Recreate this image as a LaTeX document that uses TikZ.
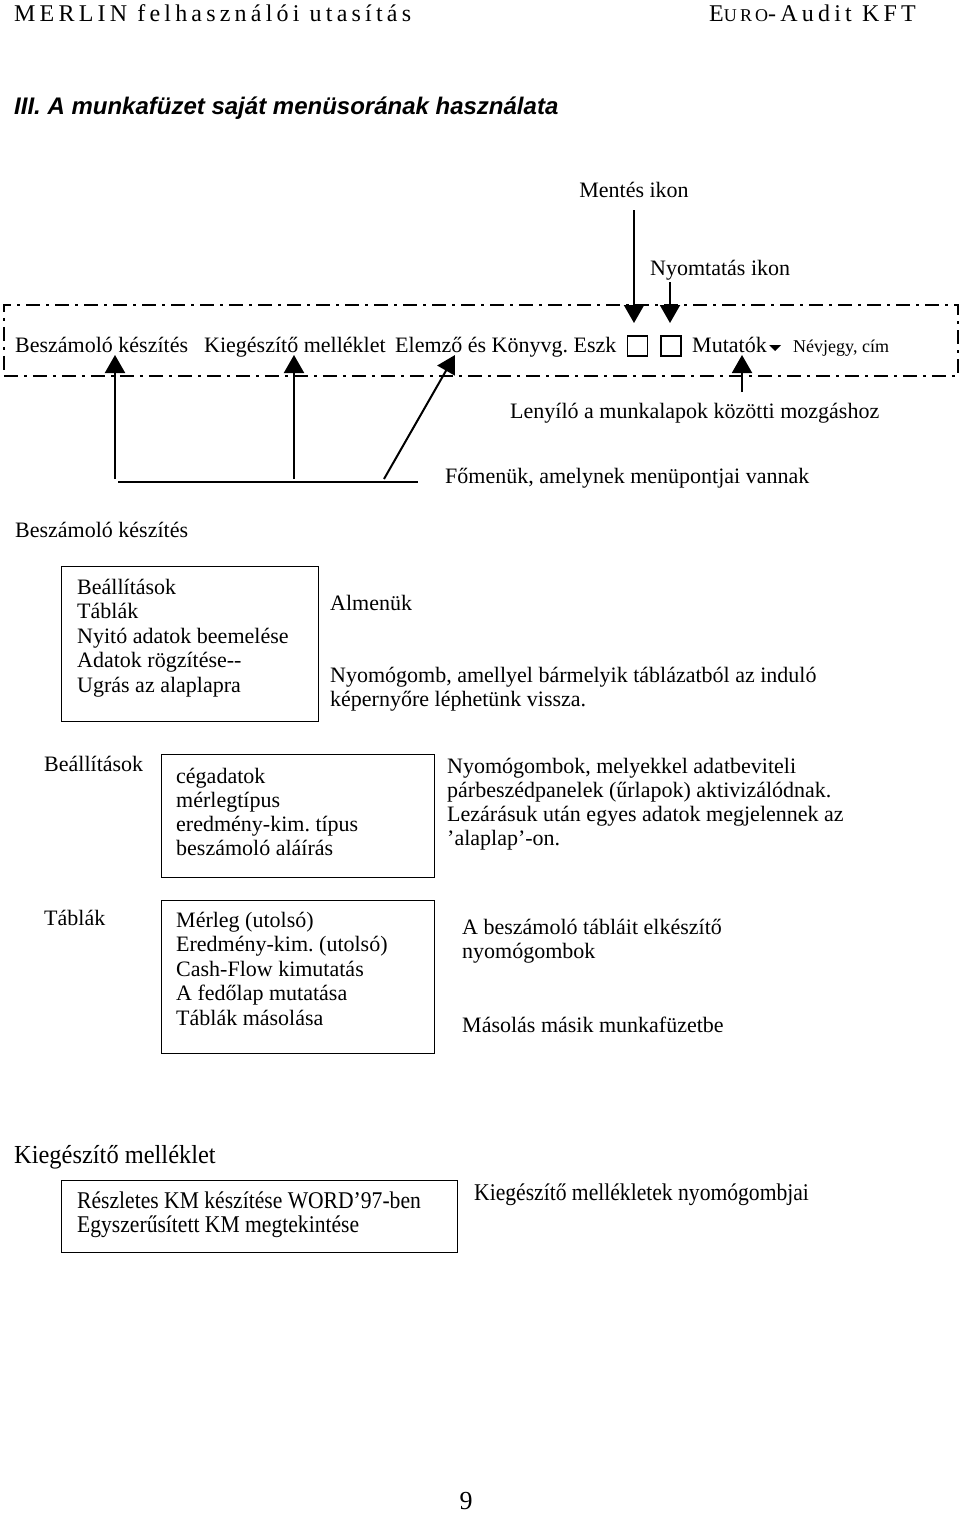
\documentclass[tikz,border=0pt]{standalone}
\usepackage{fontspec}
\setmainfont{Liberation Serif}
\newfontfamily\sansbi{Liberation Sans}
\newfontfamily\hdrfont[LetterSpace=17.5]{Liberation Serif}
\newfontfamily\narrowfont[FakeStretch=0.9]{Liberation Serif}
\newfontfamily\headnarrow[FakeStretch=0.94]{Liberation Serif}
\usetikzlibrary{arrows.meta}
\frenchspacing
\begin{document}
\frenchspacing
\begin{tikzpicture}[x=1pt,y=-1pt,
  txt/.style={inner sep=0pt, anchor=base west, font=\fontsize{22}{26}\selectfont},
  ntxt/.style={inner sep=0pt, anchor=base west, font=\narrowfont\fontsize{24}{28}\selectfont},
  lbox/.style={draw, line width=1.3pt, inner sep=0pt, anchor=north west},
  arr/.style={line width=2pt, -{Triangle[width=20pt,length=18pt]}},
  plain/.style={line width=2pt},
  dashdot/.style={draw, line width=1.8pt, dash pattern=on 14pt off 6pt on 3pt off 6pt, inner sep=0pt, anchor=north west}]
\fill[white] (0,0) rectangle (960,1515);
\useasboundingbox (0,0) rectangle (960,1515);

% header
\node[inner sep=0pt, anchor=base west, font=\hdrfont\fontsize{24}{28}\selectfont] (hdrl) at (14,21) {MERLIN felhasználói utasítás};
\node[inner sep=0pt, anchor=base east, font=\hdrfont\fontsize{24}{28}\selectfont] (hdrr) at (916,21) {E{\fontsize{18}{20}\selectfont URO}-Audit KFT};
\node[inner sep=0pt, anchor=base west, font=\sansbi\bfseries\itshape\fontsize{24}{28}\selectfont] (title) at (14,114) {III. A munkafüzet saját menüsorának használata};

% labels above the bar
\node[txt, anchor=base] (mentes) at (634,197) {Mentés ikon};
\node[txt] (nyomt) at (650,275) {Nyomtatás ikon};

% menu bar
\node[dashdot, minimum width=954pt, minimum height=71pt] (bar) at (3,304) {};
\node[txt] (m1) at (15,352) {Beszámoló készítés};
\node[txt] (m2) at (204,352) {Kiegészítő melléklet};
\node[txt] (m3) at (395,352) {Elemző és Könyvg. Eszk};
\node[draw, line width=1.2pt, minimum size=20pt, inner sep=0pt] (sq1) at (637.5,346) {};
\node[draw, line width=1.2pt, minimum size=20pt, inner sep=0pt] (sq2) at (671,346) {};
\node[txt] (m4) at (692,352) {Mutatók};
\fill (769,345) -- (781,345) -- (775,351) -- cycle;
\node[txt, font=\fontsize{18}{20}\selectfont] (m5) at (793,352) {Névjegy, cím};

% arrows down to icons
\coordinate (ms) at (634,210); \coordinate (mt) at (634,323);
\coordinate (ns) at (670,282); \coordinate (nt) at (670,323);
\draw[arr] (ms) -- (mt);
\draw[arr] (ns) -- (nt);

% arrow up to Mutatók
\coordinate (us) at (742,392); \coordinate (ut) at (742,355);
\draw[arr] (us) -- (ut);
\node[txt] (leny) at (510,418) {Lenyíló a munkalapok közötti mozgáshoz};

% main menu arrows
\coordinate (a1s) at (115,479); \coordinate (a1t) at (115,355);
\coordinate (a2s) at (294,479); \coordinate (a2t) at (294,355);
\coordinate (a3s) at (384,479); \coordinate (a3t) at (455,355);
\coordinate (hl) at (118,482); \coordinate (hr) at (418,482);
\draw[arr] (a1s) -- (a1t);
\draw[arr] (a2s) -- (a2t);
\draw[arr] (a3s) -- (a3t);
\draw[plain] (hl) -- (hr);
\node[txt] (fomenu) at (445,483) {Főmenük, amelynek menüpontjai vannak};

% Beszámoló készítés
\node[txt] (h1) at (15,537) {Beszámoló készítés};
\node[lbox, minimum width=257pt, minimum height=155pt] (box1) at (61,566) {};
\foreach \t [count=\i from 0] in {Beállítások, Táblák, Nyitó adatok beemelése, Adatok rögzítése{-}{-}, Ugrás az alaplapra}
  \node[txt] (b1l\i) at (77,{594+24.5*\i}) {\t};
\node[txt] (alm) at (330,610) {Almenük};
\node[txt] (ny1) at (330,682) {Nyomógomb, amellyel bármelyik táblázatból az induló};
\node[txt] (ny2) at (330,706) {képernyőre léphetünk vissza.};

% Beállítások
\node[txt] (h2) at (44,771) {Beállítások};
\node[lbox, minimum width=273pt, minimum height=123pt] (box2) at (161,754) {};
\foreach \t [count=\i from 0] in {cégadatok, mérlegtípus, eredmény-kim. típus, beszámoló aláírás}
  \node[txt] (b2l\i) at (176,{783+24.3*\i}) {\t};
\foreach \t [count=\i from 0] in {Nyomógombok{,} melyekkel adatbeviteli, párbeszédpanelek (űrlapok) aktivizálódnak., Lezárásuk után egyes adatok megjelennek az, ’alaplap’-on.}
  \node[txt] (r2l\i) at (447,{773+24.3*\i}) {\t};

% Táblák
\node[txt] (h3) at (44,925) {Táblák};
\node[lbox, minimum width=273pt, minimum height=153pt] (box3) at (161,900) {};
\foreach \t [count=\i from 0] in {Mérleg (utolsó), Eredmény-kim. (utolsó), Cash-Flow kimutatás, A fedőlap mutatása, Táblák másolása}
  \node[txt] (b3l\i) at (176,{927+24.5*\i}) {\t};
\node[txt] (r3a) at (462,934) {A beszámoló tábláit elkészítő};
\node[txt] (r3b) at (462,958) {nyomógombok};
\node[txt] (r3c) at (462,1032) {Másolás másik munkafüzetbe};

% Kiegészítő melléklet
\node[inner sep=0pt, anchor=base west, font=\headnarrow\fontsize{26}{30}\selectfont] (h4) at (14,1163) {Kiegészítő melléklet};
\node[lbox, minimum width=396pt, minimum height=72pt] (box4) at (61,1180) {};
\node[ntxt] (b4l0) at (77,1208) {Részletes KM készítése WORD’97-ben};
\node[ntxt] (b4l1) at (77,1232) {Egyszerűsített KM megtekintése};
\node[ntxt] (r4) at (474,1200) {Kiegészítő mellékletek nyomógombjai};

% page number
\node[inner sep=0pt, anchor=base, font=\fontsize{26}{30}\selectfont] (pg) at (466,1509) {9};
\end{tikzpicture}
\end{document}
